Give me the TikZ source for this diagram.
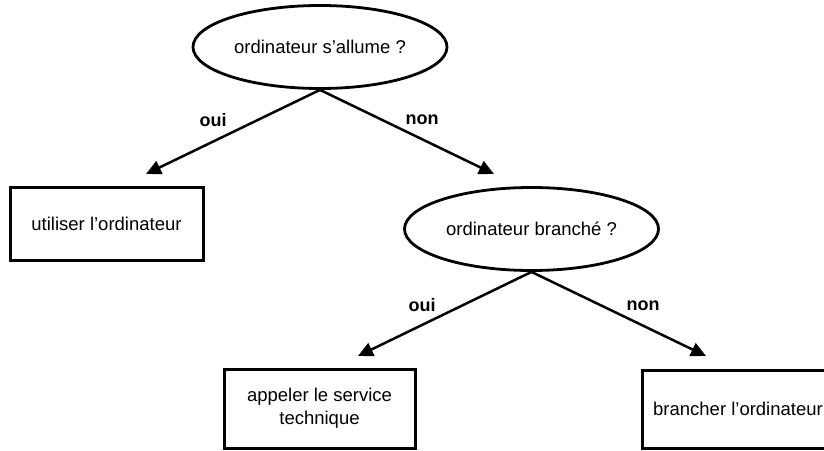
\documentclass[tikz,border=0pt]{standalone}
\usepackage{fontspec}
\setmainfont{Liberation Sans}
\usetikzlibrary{shapes.geometric,arrows.meta}

\tikzset{
  question/.style={ellipse, draw, line width=2.8pt, inner sep=0pt,
    minimum width=254pt, minimum height=83pt, font=\fontsize{18.5}{23}\selectfont},
  action/.style={rectangle, draw, line width=3pt, inner sep=0pt,
    align=center, font=\fontsize{18.5}{23}\selectfont},
  branch/.style={line width=2.5pt, -{Triangle[length=15pt,width=14pt]}},
  answer/.style={font=\bfseries\fontsize{18}{22}\selectfont, inner sep=0pt}
}

\begin{document}
\begin{tikzpicture}[x=1pt, y=-1pt]
  \clip (0,0) rectangle (824,450);
  \fill[white] (0,0) rectangle (824,450);

  % decision nodes
  \node[question] (q1) at (320,47) {ordinateur s’allume ?};
  \node[question] (q2) at (531.5,229) {ordinateur branché ?};

  % outcome boxes
  \node[action, minimum width=193pt, minimum height=73pt] (use) at (106.5,223.5) {utiliser l’ordinateur};
  \node[action, minimum width=191pt, minimum height=79pt] (call) at (319.5,408.5) {appeler le service\\technique};
  \node[action, minimum width=192pt, minimum height=78pt] (plug) at (738,409) {brancher l’ordinateur};

  % arrow tips stop short of their targets
  \coordinate (t1) at (146,174);
  \coordinate (t2) at (494,174);
  \coordinate (t3) at (358,356);
  \coordinate (t4) at (706,356);

  \draw[branch] (q1.south) -- (t1);
  \draw[branch] (q1.south) -- (t2);
  \draw[branch] (q2.south) -- (t3);
  \draw[branch] (q2.south) -- (t4);

  % branch labels
  \node[answer] (l1) at (213,120) {oui};
  \node[answer] (l2) at (422,120) {non};
  \node[answer] (l3) at (422,305) {oui};
  \node[answer] (l4) at (643,306) {non};
\end{tikzpicture}
\end{document}
